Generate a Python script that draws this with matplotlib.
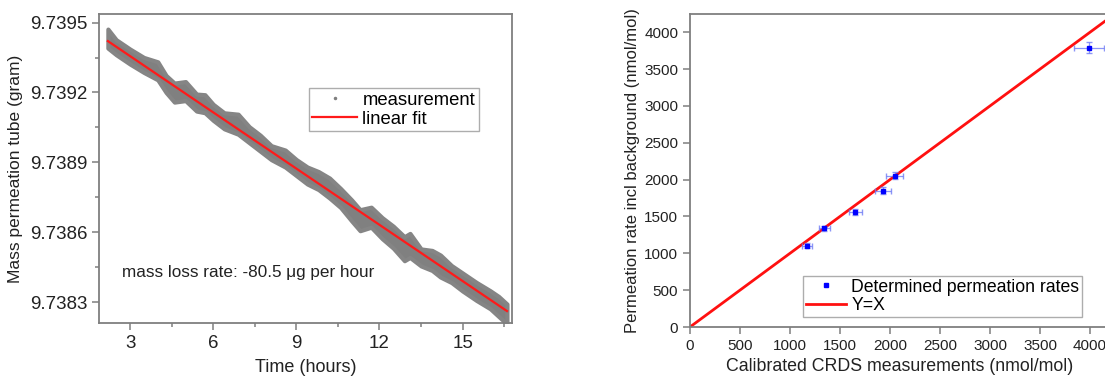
import matplotlib.pyplot as plt
from matplotlib.lines import Line2D

time_h = [2.2, 2.5, 3.0, 3.5, 4.0, 4.3, 4.6, 5.0, 5.4, 5.7, 6.0, 6.4, 6.9, 7.3, 7.7,
          8.1, 8.6, 9.0, 9.4, 9.8, 10.2, 10.6, 11.0, 11.3, 11.7, 12.1, 12.5, 12.9,
          13.1, 13.5, 13.9, 14.2, 14.6, 15.0, 15.5, 16.0, 16.3, 16.6]
mass_upper = [9.7394722, 9.7394265, 9.7393863, 9.7393503, 9.7393316, 9.7392730,
              9.7392403, 9.7392468, 9.7391931, 9.7391904, 9.7391491, 9.7391126,
              9.7391067, 9.7390530, 9.7390165, 9.7389714, 9.7389527, 9.7389119,
              9.7388797, 9.7388604, 9.7388325, 9.7387874, 9.7387380, 9.7386966,
              9.7387074, 9.7386623, 9.7386258, 9.7385807, 9.7385947, 9.7385281,
              9.7385217, 9.7385019, 9.7384568, 9.7384246, 9.7383843, 9.7383484,
              9.7383242, 9.7382915]
mass_lower = [9.7393905, 9.7393620, 9.7393218, 9.7392858, 9.7392542, 9.7391999,
              9.7391586, 9.7391651, 9.7391200, 9.7391130, 9.7390803, 9.7390438,
              9.7390207, 9.7389842, 9.7389477, 9.7389112, 9.7388796, 9.7388431,
              9.7388066, 9.7387830, 9.7387465, 9.7387057, 9.7386477, 9.7386063,
              9.7386214, 9.7385720, 9.7385312, 9.7384775, 9.7384915, 9.7384550,
              9.7384357, 9.7384073, 9.7383837, 9.7383472, 9.7383069, 9.7382710,
              9.7382382, 9.7382055]
fit_time = [2.2, 16.6]
fit_mass = [9.7394206, 9.7382614]

# Right panel: permeation rates vs calibrated CRDS
crds = [1167, 1344, 1653, 1931, 2049, 3993]
crds_err = [50, 55, 67, 78, 84, 150]
perm = [1103, 1342, 1555, 1849, 2052, 3792]
perm_err = [35, 35, 40, 50, 45, 75]
line_xy = [0, 4200]

plt.rcParams['font.family'] = ['Liberation Sans', 'DejaVu Sans']
grey = '#7f7f7f'
txt = '#222222'

fig = plt.figure(figsize=(11.05, 3.77), dpi=100)

# ---- left panel
ax1 = fig.add_axes([0.0896, 0.1432, 0.3737, 0.8197])
ax1.fill_between(time_h, mass_lower, mass_upper, color='#808080', lw=3,
                 edgecolor='#858585', joinstyle='round')
ax1.plot(fit_time, fit_mass, color='#ff1a1a', lw=1.6)
ax1.set_xlim(1.88, 16.78)
ax1.set_ylim(9.73821, 9.739537)
ax1.set_xticks([3, 6, 9, 12, 15])
ax1.set_xticks([4.5, 7.5, 10.5, 13.5, 16.5], minor=True)
ax1.set_yticks([9.7383, 9.7386, 9.7389, 9.7392, 9.7395])
ax1.set_yticks([9.73845, 9.73875, 9.73905, 9.73935], minor=True)
ax1.set_yticklabels(['9.7383', '9.7386', '9.7389', '9.7392', '9.7395'])
ax1.set_xlabel('Time (hours)', fontsize=13, color=txt, labelpad=5)
ax1.set_ylabel('Mass permeation tube (gram)', fontsize=12.5, color=txt, labelpad=5)
ax1.text(0.056, 0.165, 'mass loss rate: -80.5 \u03bcg per hour', transform=ax1.transAxes,
         fontsize=12.3, color=txt, va='center')
handles1 = [Line2D([], [], ls='none', marker='.', ms=3, color=grey),
            Line2D([], [], color='#ff1a1a', lw=1.6)]
ax1.legend(handles1, ['measurement', 'linear fit'], loc='upper left',
           bbox_to_anchor=(0.508, 0.76), fontsize=13.3, frameon=True, fancybox=False,
           edgecolor='#999999', borderpad=0.2, labelspacing=0.1, handlelength=2.4,
           handletextpad=0.3, borderaxespad=0)

# ---- right panel
ax2 = fig.add_axes([0.6244, 0.1326, 0.3801, 0.8303])
ax2.plot(line_xy, line_xy, color='#ff1010', lw=2, label='Y=X', zorder=2)
ax2.errorbar(crds, perm, xerr=crds_err, yerr=perm_err, fmt='none',
             ecolor='#6f7cf5', elinewidth=0.9, capsize=2.5, alpha=0.8, zorder=3)
ax2.plot(crds, perm, ls='none', marker='s', ms=3.5, color='#0000ff',
         label='Determined permeation rates', zorder=4)
ax2.set_xlim(0, 4200)
ax2.set_ylim(0, 4248)
ax2.set_xticks(range(0, 4001, 500))
ax2.set_yticks(range(0, 4001, 500))
ax2.set_xlabel('Calibrated CRDS measurements (nmol/mol)', fontsize=12.8, color=txt,
               labelpad=4)
ax2.set_ylabel('Permeation rate incl background (nmol/mol)', fontsize=12, color=txt,
               labelpad=3)
h, l = ax2.get_legend_handles_labels()
ax2.legend([h[1], h[0]], [l[1], l[0]], loc='lower left', bbox_to_anchor=(0.269, 0.032),
           fontsize=12.7, frameon=True, fancybox=False, edgecolor='#999999',
           borderpad=0.15, labelspacing=0.1, handlelength=2.3, handletextpad=0.3,
           borderaxespad=0, markerscale=0.8)

for ax in (ax1, ax2):
    for s in ax.spines.values():
        s.set_color(grey)
        s.set_linewidth(1.3)
    ax.tick_params(which='both', direction='out', color=grey, width=1.1)
    ax.tick_params(which='major', length=5, labelsize=13.5, labelcolor=txt)
    ax.tick_params(which='minor', length=3)
ax2.tick_params(which='major', labelsize=11)

fig.savefig('out.png', dpi=100)
